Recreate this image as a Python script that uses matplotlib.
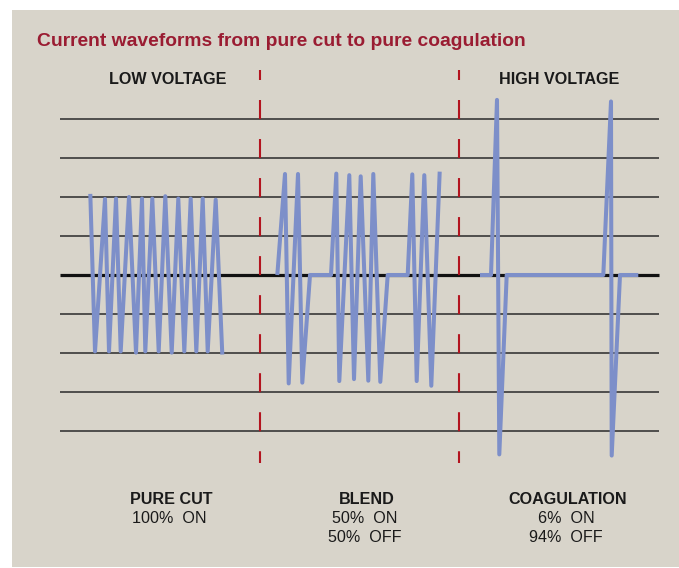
import matplotlib.pyplot as plt
from matplotlib.patches import Rectangle

plt.rcParams['font.family'] = ['Liberation Sans', 'DejaVu Sans']
plt.rcParams['lines.scale_dashes'] = False

# ---------------- data (time in px-like units, amplitude in grid units) ---------------- #
cut_t = [90.3, 95, 105, 109, 116, 120.7, 129, 136, 142, 145.3, 152.3, 158.7,
         165.3, 171.7, 178.3, 184.3, 190.7, 196.3, 202.7, 207.7, 215.7, 222.3]
cut_v = [2.08, -1.96, 1.95, -1.96, 1.96, -1.96, 2.0, -1.99, 1.96, -1.96, 1.96, -1.96,
         2.02, -1.99, 1.96, -1.96, 1.96, -1.96, 1.96, -1.96, 1.93, -2.04]

blend_t = [277.3, 285, 288.7, 298, 302.3, 310, 331, 336.3, 339.3, 349.3, 354, 360.7,
           368.3, 373.3, 380.3, 387.7, 407.7, 412.3, 416.7, 424.3, 431.3, 439.7]
blend_v = [0, 2.59, -2.78, 2.59, -2.76, 0, 0, 2.6, -2.72, 2.56, -2.67, 2.53,
           -2.71, 2.59, -2.74, 0, 0, 2.58, -2.72, 2.56, -2.84, 2.65]

coag_t = [480, 491, 497, 499.3, 506.7, 603.3, 611, 611.7, 620, 638.3]
coag_v = [0, 0, 4.49, -4.6, 0, 0, 4.45, -4.63, 0, 0]

grid_levels = [-4, -3, -2, -1, 1, 2, 3, 4]
dividers = [260, 459]

top_labels = ["LOW VOLTAGE", "HIGH VOLTAGE"]
mode_names = ["PURE CUT", "BLEND", "COAGULATION"]
mode_lines = [["100%  ON"], ["50%  ON", "50%  OFF"], ["6%  ON", "94%  OFF"]]

BG = '#d8d4ca'
WAVE = '#7d8fc9'
RED = '#b3141f'
TITLE_RED = '#9a1c32'

W, H = 679, 568
PX = 39.0  # pixels per amplitude unit
Y0 = 275   # pixel row of zero line

fig = plt.figure(figsize=(W / 100, H / 100), dpi=100)
fig.patch.set_facecolor('white')
ax = fig.add_axes([0, 0, 1, 1])
ax.set_xlim(0, W)
ax.set_ylim(-(H - Y0) / PX, Y0 / PX)
ax.axis('off')

def amp(py):
    return (Y0 - py) / PX

# background panel
ax.add_patch(Rectangle((12, amp(567)), 667, amp(10) - amp(567), facecolor=BG,
                       edgecolor='none', zorder=0))

# grid lines
ax.hlines(grid_levels, 60, 659, color='#2a2a2a', lw=1.1, zorder=1)
ax.hlines(0, 60, 659, color='#111111', lw=2.3, zorder=1)

# dashed dividers (19px on, 20px off, first dash cut short)
for x in dividers:
    ax.plot([x, x], [amp(70), amp(463)], color=RED, lw=1.5, zorder=2,
            linestyle=(6.5, (13.7, 14.4)), dash_capstyle='butt')

# waveforms
for t, v in [(cut_t, cut_v), (blend_t, blend_v), (coag_t, coag_v)]:
    ax.plot(t, v, color=WAVE, lw=2.9, zorder=3, solid_joinstyle='round',
            solid_capstyle='butt')

# texts
FS = 11.6
ax.text(37, amp(46.5), "Current waveforms from pure cut to pure coagulation",
        color=TITLE_RED, fontsize=13.9, fontweight='bold', va='baseline', ha='left')
ax.text(167.5, amp(84), top_labels[0], fontsize=FS, fontweight='bold',
        color='#1a1a1a', ha='center', va='baseline')
ax.text(559.5, amp(84), top_labels[1], fontsize=FS, fontweight='bold',
        color='#1a1a1a', ha='center', va='baseline')

name_x = [171.5, 366.3, 567.7]
for i, name in enumerate(mode_names):
    ax.text(name_x[i], amp(504.3), name, fontsize=FS, fontweight='bold',
            color='#1a1a1a', ha='center', va='baseline')
    for j, s in enumerate(mode_lines[i]):
        if i == 0:
            ax.text(131.7, amp(523.3 + 18.7 * j), s, fontsize=FS, color='#1a1a1a',
                    ha='left', va='baseline')
        else:
            ax.text(name_x[i] - 1.5, amp(523.3 + 18.7 * j), s, fontsize=FS,
                    color='#1a1a1a', ha='center', va='baseline')

fig.savefig('out.png', dpi=100, facecolor='white')
